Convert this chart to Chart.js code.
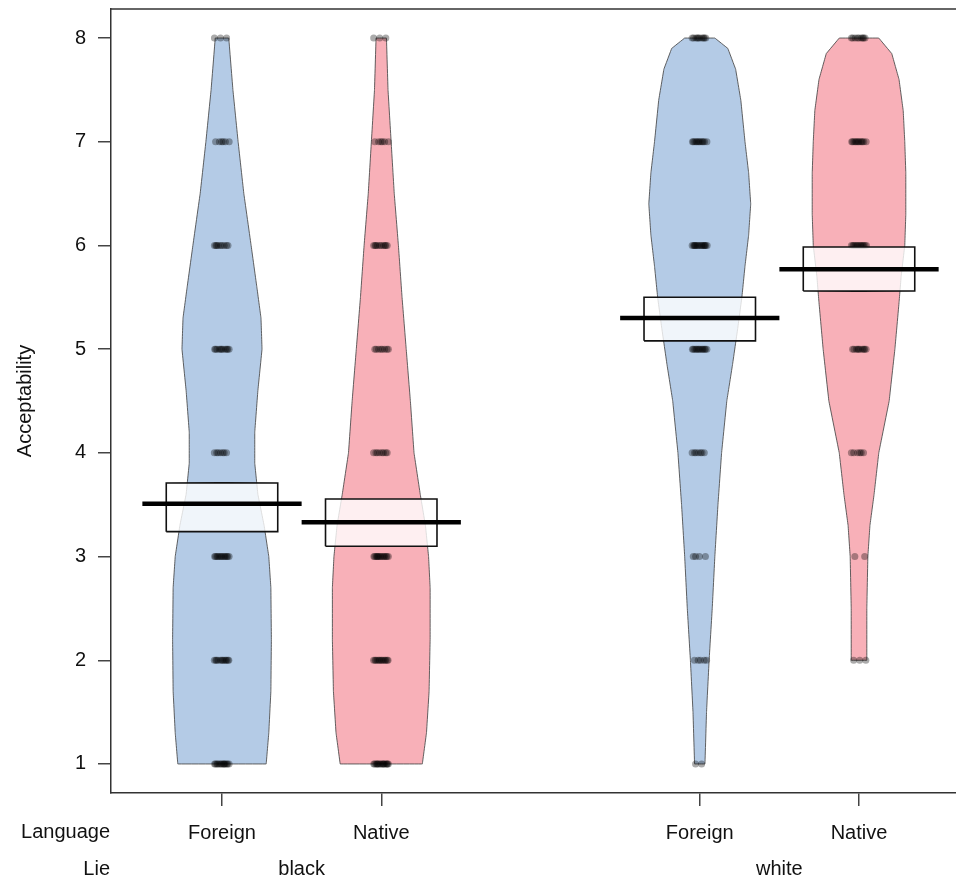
<!DOCTYPE html>
<html>
<head>
<meta charset="utf-8">
<script src="https://cdn.jsdelivr.net/npm/chart.js@4.4.1/dist/chart.umd.min.js"></script>
<style>
  html, body { margin: 0; padding: 0; background: #fff; overflow: hidden; }
  #wrap { width: 956px; height: 881px; }
</style>
</head>
<body>
<div id="wrap"><canvas id="c" width="956" height="881"></canvas></div>
<script>
// ---------------- DATA ----------------
const languageLabels = ['Foreign', 'Native', 'Foreign', 'Native'];
const lieGroups = ['black', 'white'];
const rowTitles = ['Language', 'Lie'];
const groupPositions = [1, 2, 4, 5];
const yTicks = [1, 2, 3, 4, 5, 6, 7, 8];
const yTitle = 'Acceptability';

// mean and inference band (HDI)
const means   = [3.51, 3.33, 5.30, 5.77];
const hdiLow  = [3.24, 3.10, 5.08, 5.56];
const hdiHigh = [3.71, 3.555, 5.50, 5.985];

// bean (density) outlines: levels and relative density
const beanLevels1  = [1.0, 1.3, 1.7, 2.2, 2.7, 3.0, 3.3, 3.6, 3.9, 4.2, 4.6, 5.0, 5.3, 5.6, 6.0, 6.5, 7.0, 7.5, 8.0];
const beanDensity1 = [0.85, 0.90, 0.94, 0.95, 0.94, 0.90, 0.81, 0.69, 0.63, 0.63, 0.69, 0.77, 0.75, 0.67, 0.56, 0.42, 0.31, 0.21, 0.13];
const beanLevels2  = [1.0, 1.3, 1.7, 2.2, 2.7, 3.0, 3.3, 3.6, 4.0, 4.5, 5.0, 5.5, 6.0, 6.5, 7.0, 7.5, 8.0];
const beanDensity2 = [0.79, 0.87, 0.92, 0.94, 0.94, 0.91, 0.85, 0.75, 0.63, 0.56, 0.48, 0.40, 0.33, 0.25, 0.19, 0.13, 0.10];
const beanLevels3  = [1.0, 1.5, 2.0, 2.5, 3.0, 3.5, 4.0, 4.5, 4.85, 5.2, 5.5, 5.8, 6.1, 6.4, 6.7, 7.0, 7.4, 7.7, 7.9, 8.0];
const beanDensity3 = [0.10, 0.13, 0.18, 0.24, 0.29, 0.35, 0.42, 0.52, 0.63, 0.73, 0.81, 0.87, 0.94, 0.98, 0.94, 0.87, 0.79, 0.69, 0.54, 0.29];
const beanLevels4  = [2.0, 2.5, 3.0, 3.3, 3.6, 4.0, 4.5, 5.0, 5.45, 5.7, 6.0, 6.3, 6.7, 7.0, 7.3, 7.6, 7.85, 8.0];
const beanDensity4 = [0.15, 0.15, 0.17, 0.21, 0.29, 0.38, 0.58, 0.69, 0.77, 0.81, 0.88, 0.90, 0.90, 0.88, 0.85, 0.77, 0.63, 0.38];

// raw responses: number of answers at each rating 1..8
const ratingLevels = [1, 2, 3, 4, 5, 6, 7, 8];
const counts1 = [14, 12, 13, 7, 11, 9, 6, 3];
const counts2 = [16, 13, 14, 8, 8, 10, 6, 3];
const counts3 = [2, 5, 4, 7, 13, 15, 12, 10];
const counts4 = [0, 3, 2, 6, 10, 13, 12, 9];

// ---------------- STYLE ----------------
const FONT = '"Liberation Sans", Arial, Helvetica, sans-serif';
const beanColors = ['rgba(180,203,230,1)', 'rgba(248,176,184,1)', 'rgba(180,203,230,1)', 'rgba(248,176,184,1)'];
const beanMaxHalf = 0.3265;   // x-units for density 1
const bandHalf = 0.35;
const lineHalf = 0.5;
const jitterHalf = 0.05;

const beans = [
  [beanLevels1, beanDensity1], [beanLevels2, beanDensity2],
  [beanLevels3, beanDensity3], [beanLevels4, beanDensity4]
];
const countsAll = [counts1, counts2, counts3, counts4];

function beanPolygon(c, levels, dens) {
  const pts = [];
  for (let i = 0; i < levels.length; i++) pts.push({ x: c + dens[i] * beanMaxHalf, y: levels[i] });
  for (let i = levels.length - 1; i >= 0; i--) pts.push({ x: c - dens[i] * beanMaxHalf, y: levels[i] });
  pts.push({ x: pts[0].x, y: pts[0].y });
  return pts;
}

const datasets = [];
groupPositions.forEach((c, gi) => {
  datasets.push({
    data: beanPolygon(c, beans[gi][0], beans[gi][1]),
    showLine: true, fill: 'shape', tension: 0.0001,
    backgroundColor: beanColors[gi],
    borderColor: 'rgba(70,70,70,0.85)', borderWidth: 1,
    pointRadius: 0, order: 4
  });
});
groupPositions.forEach((c, gi) => {
  const pts = [];
  countsAll[gi].forEach((n, k) => {
    for (let i = 0; i < n; i++) {
      const f = (((i + 1) * 0.6180339 + k * 0.31) % 1) - 0.5;
      pts.push({ x: c + f * 2 * jitterHalf, y: ratingLevels[k] });
    }
  });
  datasets.push({
    data: pts, showLine: false,
    pointRadius: 3.5, pointBorderWidth: 0,
    backgroundColor: 'rgba(0,0,0,0.33)', borderColor: 'rgba(0,0,0,0)',
    order: 3
  });
});
groupPositions.forEach((c, gi) => {
  datasets.push({
    data: [
      { x: c - bandHalf, y: hdiLow[gi] }, { x: c + bandHalf, y: hdiLow[gi] },
      { x: c + bandHalf, y: hdiHigh[gi] }, { x: c - bandHalf, y: hdiHigh[gi] },
      { x: c - bandHalf, y: hdiLow[gi] }
    ],
    showLine: true, fill: 'shape', tension: 0.0001,
    backgroundColor: 'rgba(255,255,255,0.8)',
    borderColor: '#111', borderWidth: 1.6,
    pointRadius: 0, order: 2
  });
});
groupPositions.forEach((c, gi) => {
  datasets.push({
    data: [{ x: c - lineHalf, y: means[gi] }, { x: c + lineHalf, y: means[gi] }],
    showLine: true, fill: false,
    borderColor: '#000', borderWidth: 4.5, borderCapStyle: 'butt',
    pointRadius: 0, order: 1
  });
});

const extraText = {
  id: 'extraText',
  afterDraw(chart) {
    const { ctx, chartArea, scales } = chart;
    const x = scales.x;
    ctx.save();
    ctx.strokeStyle = '#333';
    ctx.lineWidth = 1.5;
    ctx.beginPath();
    ctx.moveTo(chartArea.left, chartArea.top);
    ctx.lineTo(chartArea.right, chartArea.top);
    ctx.stroke();
    ctx.font = '20px ' + FONT;
    ctx.fillStyle = '#111';
    ctx.textBaseline = 'middle';
    ctx.textAlign = 'right';
    ctx.fillText(rowTitles[0], chartArea.left - 1, 832);
    ctx.fillText(rowTitles[1], chartArea.left - 1, 869);
    ctx.textAlign = 'center';
    lieGroups.forEach((g, i) => {
      const mid = (groupPositions[i * 2] + groupPositions[i * 2 + 1]) / 2;
      ctx.fillText(g, x.getPixelForValue(mid), 869);
    });
    ctx.restore();
  }
};

new Chart(document.getElementById('c'), {
  type: 'scatter',
  data: { datasets },
  options: {
    responsive: false,
    animation: false,
    events: [],
    devicePixelRatio: 1,
    layout: { autoPadding: false, padding: { top: 9, right: 0, bottom: 0, left: 0 } },
    plugins: { legend: { display: false }, tooltip: { enabled: false } },
    scales: {
      x: {
        type: 'linear', min: 0.303, max: 5.609,
        afterBuildTicks: (s) => { s.ticks = groupPositions.map(v => ({ value: v })); },
        afterFit: (s) => { s.height = 88; s.paddingLeft = 0; s.paddingRight = 0; },
        ticks: {
          autoSkip: false, maxRotation: 0, padding: 15,
          font: { size: 20, family: FONT }, color: '#111',
          callback: (v, i) => languageLabels[i]
        },
        grid: { drawOnChartArea: false, drawTicks: true, tickLength: 13, color: '#444', lineWidth: 1.5 },
        border: { display: true, color: '#333', width: 1.5 }
      },
      y: {
        type: 'linear', min: 0.72, max: 8.28,
        afterBuildTicks: (s) => { s.ticks = yTicks.map(v => ({ value: v })); },
        afterFit: (s) => { s.width = 111; s.paddingTop = 0; s.paddingBottom = 0; },
        ticks: { padding: 12, font: { size: 20, family: FONT }, color: '#111' },
        title: { display: true, text: yTitle, font: { size: 20, family: FONT }, color: '#111', padding: { top: 13, bottom: 0 } },
        grid: { drawOnChartArea: false, drawTicks: true, tickLength: 13, color: '#444', lineWidth: 1.5 },
        border: { display: true, color: '#333', width: 1.5 }
      }
    }
  },
  plugins: [extraText]
});
</script>
</body>
</html>
